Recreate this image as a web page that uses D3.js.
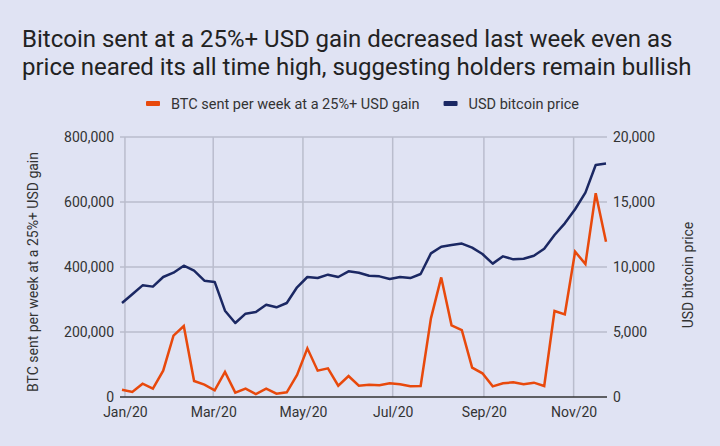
<!DOCTYPE html>
<html>
<head>
<meta charset="utf-8">
<script src="https://cdn.jsdelivr.net/npm/d3@7/dist/d3.min.js"></script>
<style>
  html, body { margin: 0; padding: 0; background: #e0e3f3; }
  svg { display: block; font-family: Roboto, "Noto Sans", sans-serif; }
</style>
</head>
<body>
<div id="chart"></div>
<script>
// ---- Data ----
const weeks = [
  "2019-12-30","2020-01-06","2020-01-13","2020-01-20","2020-01-27","2020-02-03","2020-02-10","2020-02-17",
  "2020-02-24","2020-03-02","2020-03-09","2020-03-16","2020-03-23","2020-03-30","2020-04-06","2020-04-13",
  "2020-04-20","2020-04-27","2020-05-04","2020-05-11","2020-05-18","2020-05-25","2020-06-01","2020-06-08",
  "2020-06-15","2020-06-22","2020-06-29","2020-07-06","2020-07-13","2020-07-20","2020-07-27","2020-08-03",
  "2020-08-10","2020-08-17","2020-08-24","2020-08-31","2020-09-07","2020-09-14","2020-09-21","2020-09-28",
  "2020-10-05","2020-10-12","2020-10-19","2020-10-26","2020-11-02","2020-11-09","2020-11-16","2020-11-23"
];
const btcSentAtGain = [
  22500, 15400, 41000, 25600, 81000, 188700, 218500, 49200,
  37900, 20500, 76900, 13300, 25600, 9200, 25600, 10300,
  14400, 67700, 149700, 81000, 88200, 34900, 64600, 34900,
  37900, 35900, 42000, 39000, 32800, 33800, 242000, 368000,
  220500, 206000, 90300, 72800, 32800, 42000, 45100, 39000,
  44100, 33800, 264600, 254400, 447200, 409200, 627000, 478000
];
const btcPrice = [
  7230, 7900, 8590, 8490, 9230, 9560, 10100, 9720,
  8950, 8850, 6640, 5690, 6410, 6540, 7100, 6900,
  7230, 8440, 9230, 9150, 9410, 9230, 9670, 9560,
  9330, 9280, 9080, 9230, 9150, 9460, 11050, 11560,
  11690, 11800, 11490, 11000, 10260, 10820, 10590, 10640,
  10870, 11410, 12460, 13360, 14440, 15720, 17850, 17970
];
const xTickDates = ["2020-01-01","2020-03-01","2020-05-01","2020-07-01","2020-09-01","2020-11-01"];
const xTickLabels = ["Jan/20","Mar/20","May/20","Jul/20","Sep/20","Nov/20"];
const leftTicks = [0, 200000, 400000, 600000, 800000];
const rightTicks = [0, 5000, 10000, 15000, 20000];
const seriesNames = ["BTC sent per week at a 25%+ USD gain", "USD bitcoin price"];
const titleLines = [
  "Bitcoin sent at a 25%+ USD gain decreased last week even as",
  "price neared its all time high, suggesting holders remain bullish"
];

// ---- Layout ----
const W = 720, H = 446;
const plot = { left: 122, right: 606, top: 137, bottom: 397 };
const colors = { orange: "#e8490c", navy: "#1b2863", grid: "#babdcd", text: "#333333", bg: "#e0e3f3" };

const parse = d3.timeParse("%Y-%m-%d");
const dates = weeks.map(parse);

const x = d3.scaleTime().domain([dates[0], dates[dates.length - 1]]).range([plot.left, plot.right]);
const yL = d3.scaleLinear().domain([0, 800000]).range([plot.bottom, plot.top]);
const yR = d3.scaleLinear().domain([0, 20000]).range([plot.bottom, plot.top]);

const svg = d3.select("#chart").append("svg").attr("width", W).attr("height", H);
svg.append("rect").attr("width", W).attr("height", H).attr("fill", colors.bg);

// Title
svg.append("g").selectAll("text").data(titleLines).join("text")
  .attr("x", 22).attr("y", (d, i) => 47 + i * 28)
  .attr("font-size", 24).attr("fill", "#222").text(d => d);

// Legend
const legend = svg.append("g");
let lx = 146;
seriesNames.forEach((name, i) => {
  const color = i === 0 ? colors.orange : colors.navy;
  legend.append("rect").attr("x", lx).attr("y", 101).attr("width", 14).attr("height", 5)
    .attr("rx", 1).attr("fill", color);
  const t = legend.append("text").attr("x", lx + 25).attr("y", 108.5).attr("font-size", 14.5)
    .attr("fill", colors.text).text(name);
  lx = lx + 25 + t.node().getComputedTextLength() + 24;
});

// Left axis labels
const gL = svg.append("g").attr("transform", `translate(${plot.left},0)`)
  .call(d3.axisLeft(yL).tickValues(leftTicks).tickFormat(d3.format(",")).tickSize(0).tickPadding(8));
gL.select(".domain").remove();
gL.selectAll("text").attr("font-size", 14).attr("fill", colors.text).attr("font-family", "Roboto");

// Horizontal gridlines
svg.append("g").selectAll("line").data(leftTicks.filter(d => d > 0)).join("line")
  .attr("x1", plot.left - 2).attr("x2", plot.right + 1)
  .attr("y1", d => yL(d)).attr("y2", d => yL(d))
  .attr("stroke", colors.grid).attr("stroke-width", 1.5);

// Vertical gridlines
const tickDates = xTickDates.map(parse);
svg.append("g").selectAll("line").data(tickDates).join("line")
  .attr("x1", d => x(d)).attr("x2", d => x(d))
  .attr("y1", plot.top).attr("y2", plot.bottom)
  .attr("stroke", colors.grid).attr("stroke-width", 1.5);

// Right axis
const gR = svg.append("g").attr("transform", `translate(${plot.right + 1},0)`)
  .call(d3.axisRight(yR).tickValues(rightTicks).tickFormat(d3.format(",")).tickSize(0).tickPadding(6));
gR.select(".domain").remove();
gR.selectAll("text").attr("font-size", 14).attr("fill", colors.text).attr("font-family", "Roboto");

// Bottom axis
const gB = svg.append("g").attr("transform", `translate(0,${plot.bottom})`)
  .call(d3.axisBottom(x).tickValues(tickDates).tickFormat((d, i) => xTickLabels[i]).tickSize(0).tickPadding(10));
gB.select(".domain").remove();
gB.selectAll("text").attr("font-size", 14).attr("fill", colors.text).attr("font-family", "Roboto");

// Zero baseline
svg.append("line").attr("x1", plot.left - 2).attr("x2", plot.right + 1)
  .attr("y1", yL(0)).attr("y2", yL(0)).attr("stroke", "#333").attr("stroke-width", 1.5);

// Axis titles
svg.append("text").attr("transform", `translate(38,${(plot.top + plot.bottom) / 2 + 5}) rotate(-90)`)
  .attr("text-anchor", "middle").attr("font-size", 14).attr("fill", colors.text).text(seriesNames[0]);
svg.append("text").attr("transform", `translate(693,${(plot.top + plot.bottom) / 2 + 8}) rotate(-90)`)
  .attr("text-anchor", "middle").attr("font-size", 14).attr("fill", colors.text).text(seriesNames[1]);

// Lines
const lineL = d3.line().x((d, i) => x(dates[i])).y(d => yL(d));
const lineR = d3.line().x((d, i) => x(dates[i])).y(d => yR(d));
svg.append("path").datum(btcPrice).attr("d", lineR).attr("fill", "none")
  .attr("stroke", colors.navy).attr("stroke-width", 2.5).attr("stroke-linejoin", "round");
svg.append("path").datum(btcSentAtGain).attr("d", lineL).attr("fill", "none")
  .attr("stroke", colors.orange).attr("stroke-width", 2.5).attr("stroke-linejoin", "miter");
</script>
</body>
</html>
